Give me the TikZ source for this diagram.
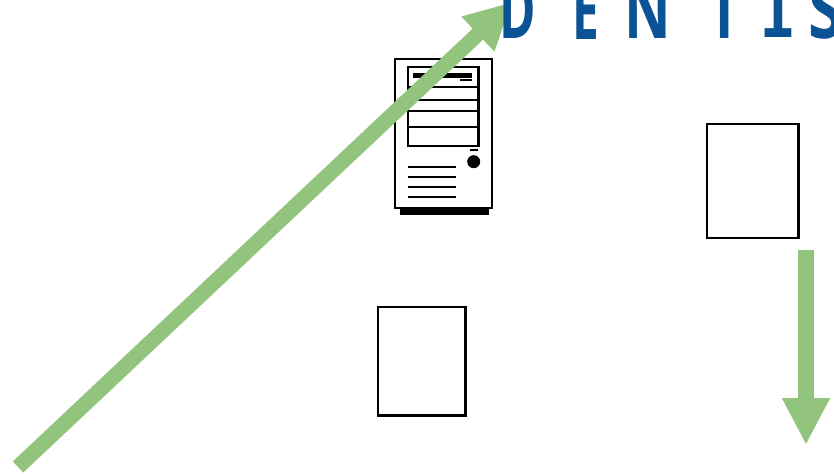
\documentclass[tikz,border=0pt]{standalone}
\usepackage{fontspec}
\setmainfont{Open Sans}
\newfontfamily\serifletter{Liberation Mono}
\usetikzlibrary{arrows.meta}
\definecolor{arrowgreen}{HTML}{93C47D}
\definecolor{titleblue}{HTML}{0B5394}
\tikzset{
  boxnode/.style={draw, line width=2.55pt, minimum width=#1, inner sep=0pt},
  bigarrow/.style={draw=arrowgreen, line width=13pt, -{Triangle[length=40pt,width=38pt,fill=arrowgreen]}},
  titleletter/.style={text=titleblue, anchor=base, font=\fontsize{68}{68}\selectfont\bfseries, inner sep=0pt, xscale=#1, transform shape},
  titleletter/.default=1
}
\begin{document}
\begin{tikzpicture}[x=0.03cm, y=-0.03cm]
  \useasboundingbox (0,0) rectangle (834,474);
  \clip (0,0) rectangle (834,474);
  % boxes
  \node[boxnode=2.61cm, minimum height=3.24cm] (boxleft) at (421.5,361) {};
  \node[boxnode=2.73cm, minimum height=3.42cm] (boxright) at (752.5,181) {};
  % computer
  \draw[line width=2.55pt] (395,59) rectangle (492,208);
  \fill (400,208) rectangle (489,215);
  \draw[line width=2.55pt] (408,67) rectangle (478.5,146);
  \foreach \y in {87,100,111,127}
    \draw[line width=2.55pt] (408,\y) -- (478.5,\y);
  \fill (413,73) rectangle (472,77.5);
  \fill (460,79) rectangle (472,81);
  \fill (470,149) rectangle (478,151);
  \fill (473.7,161.7) circle (6.5);
  \foreach \y in {167,177,187,197}
    \draw[line width=2.55pt] (408,\y) -- (456,\y);
  % arrows
  \coordinate (diagstart) at (18,467);
  \coordinate (diagend) at (512,2);
  \coordinate (downstart) at (806,250);
  \coordinate (downend) at (806,445);
  \draw[bigarrow] (diagstart) -- (diagend);
  \draw[bigarrow] (downstart) -- (downend);
  % title
  \node[titleletter=0.62] (letterd) at (518,38) {D};
  \node[titleletter=0.6] (lettere) at (586,39) {E};
  \node[titleletter=0.72] (lettern) at (648,38) {N};
  \node[titleletter=0.7] (lettert) at (725,38) {T};
  \node[titleletter=0.75, font=\fontsize{68}{68}\selectfont\serifletter\bfseries] (letteri) at (778,37) {I};
  \node[titleletter=0.8] (letters) at (826,38) {S};
\end{tikzpicture}
\end{document}
